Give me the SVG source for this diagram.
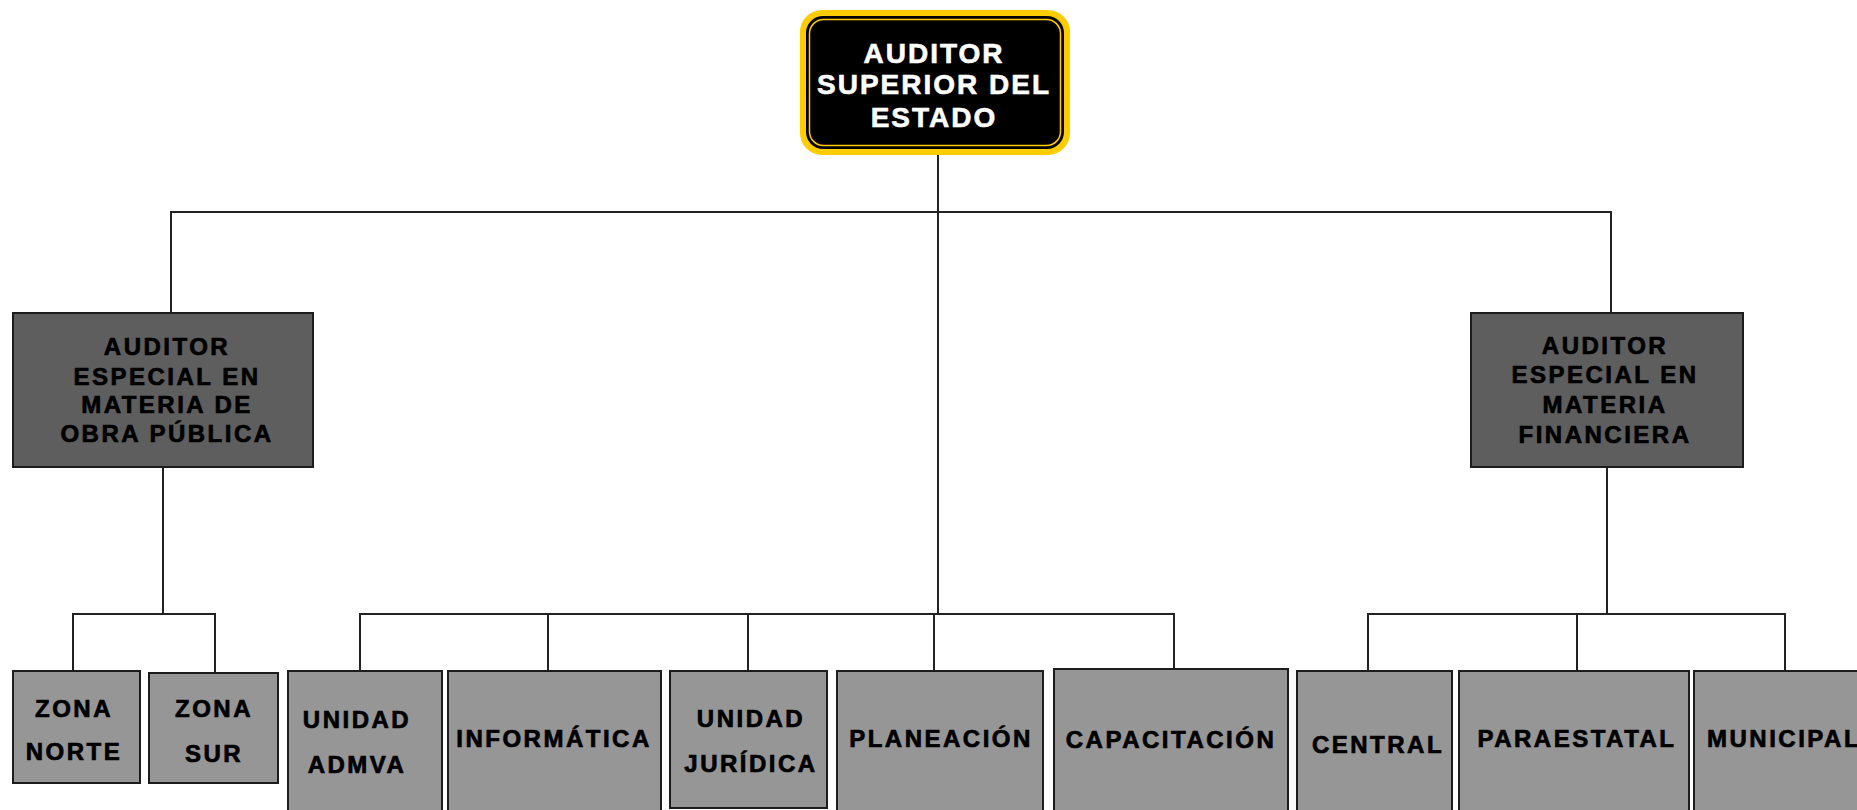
<svg xmlns="http://www.w3.org/2000/svg" width="1857" height="810" viewBox="0 0 1857 810">
<style>
.bg{fill:#ffffff}
.conn{stroke:#222222;stroke-width:2;fill:none;stroke-linecap:square}
.mid{fill:#5e5e5e;stroke:#1c1c1c;stroke-width:2}
.low{fill:#969696;stroke:#1c1c1c;stroke-width:2}
.t{font-family:"Liberation Sans",Arial,sans-serif;font-weight:bold;font-size:24px;letter-spacing:2.5px;fill:#000000;stroke:#000000;stroke-width:0.7px;text-anchor:middle}
.tt{font-family:"Liberation Sans",Arial,sans-serif;font-weight:bold;font-size:28px;letter-spacing:2px;fill:#ffffff;stroke:#ffffff;stroke-width:0.6px;text-anchor:middle}
</style>
<rect class="bg" x="0" y="0" width="1857" height="810"/>
<g id="connectors">
<line class="conn" x1="938" y1="155" x2="938" y2="614"/>
<line class="conn" x1="171" y1="212" x2="1611" y2="212"/>
<line class="conn" x1="171" y1="212" x2="171" y2="313"/>
<line class="conn" x1="1611" y1="212" x2="1611" y2="313"/>
<line class="conn" x1="163" y1="467" x2="163" y2="614"/>
<line class="conn" x1="73" y1="614" x2="215" y2="614"/>
<line class="conn" x1="73" y1="614" x2="73" y2="671"/>
<line class="conn" x1="215" y1="614" x2="215" y2="673"/>
<line class="conn" x1="360" y1="614" x2="1174" y2="614"/>
<line class="conn" x1="360" y1="614" x2="360" y2="671"/>
<line class="conn" x1="548" y1="614" x2="548" y2="671"/>
<line class="conn" x1="748" y1="614" x2="748" y2="671"/>
<line class="conn" x1="934" y1="614" x2="934" y2="671"/>
<line class="conn" x1="1174" y1="614" x2="1174" y2="669"/>
<line class="conn" x1="1607" y1="467" x2="1607" y2="614"/>
<line class="conn" x1="1368" y1="614" x2="1785" y2="614"/>
<line class="conn" x1="1368" y1="614" x2="1368" y2="671"/>
<line class="conn" x1="1577" y1="614" x2="1577" y2="671"/>
<line class="conn" x1="1785" y1="614" x2="1785" y2="671"/>
</g>
<g id="auditor-superior">
<rect x="800" y="10" width="270" height="145" rx="22" fill="#ffcc00"/>
<rect x="806" y="16" width="258" height="133" rx="17" fill="#000000"/>
<rect x="809.5" y="19.5" width="251" height="126" rx="14" fill="none" stroke="#ffcc00" stroke-width="1.5"/>
<text class="tt" x="934" y="63">AUDITOR</text>
<text class="tt" x="934" y="94">SUPERIOR DEL</text>
<text class="tt" x="934" y="127">ESTADO</text>
</g>
<g id="auditor-obra-publica">
<rect class="mid" x="13" y="313" width="300" height="154"/>
<text class="t" x="167" y="355">AUDITOR</text>
<text class="t" x="167" y="385">ESPECIAL EN</text>
<text class="t" x="167" y="413">MATERIA DE</text>
<text class="t" x="167" y="442">OBRA PÚBLICA</text>
</g>
<g id="auditor-financiera">
<rect class="mid" x="1471" y="313" width="272" height="154"/>
<text class="t" x="1605" y="354">AUDITOR</text>
<text class="t" x="1605" y="383">ESPECIAL EN</text>
<text class="t" x="1605" y="413">MATERIA</text>
<text class="t" x="1605" y="443">FINANCIERA</text>
</g>
<g id="zona-norte">
<rect class="low" x="13" y="671" width="127" height="112"/>
<text class="t" x="74" y="717">ZONA</text>
<text class="t" x="74" y="760">NORTE</text>
</g>
<g id="zona-sur">
<rect class="low" x="149" y="673" width="129" height="110"/>
<text class="t" x="214" y="717">ZONA</text>
<text class="t" x="214" y="762">SUR</text>
</g>
<g id="unidad-admva">
<rect class="low" x="288" y="671" width="154" height="150"/>
<text class="t" x="357" y="728">UNIDAD</text>
<text class="t" x="357" y="773">ADMVA</text>
</g>
<g id="informatica">
<rect class="low" x="448" y="671" width="213" height="150"/>
<text class="t" x="554" y="747">INFORMÁTICA</text>
</g>
<g id="unidad-juridica">
<rect class="low" x="670" y="671" width="157" height="137"/>
<text class="t" x="751" y="727">UNIDAD</text>
<text class="t" x="751" y="772">JURÍDICA</text>
</g>
<g id="planeacion">
<rect class="low" x="837" y="671" width="206" height="150"/>
<text class="t" x="941" y="747">PLANEACIÓN</text>
</g>
<g id="capacitacion">
<rect class="low" x="1054" y="669" width="234" height="150"/>
<text class="t" x="1171" y="748">CAPACITACIÓN</text>
</g>
<g id="central">
<rect class="low" x="1297" y="671" width="155" height="150"/>
<text class="t" x="1378" y="753">CENTRAL</text>
</g>
<g id="paraestatal">
<rect class="low" x="1459" y="671" width="230" height="150"/>
<text class="t" x="1577" y="747">PARAESTATAL</text>
</g>
<g id="municipal">
<rect class="low" x="1694" y="671" width="180" height="150"/>
<text class="t" x="1707" y="747" style="text-anchor:start">MUNICIPAL</text>
</g>
</svg>
